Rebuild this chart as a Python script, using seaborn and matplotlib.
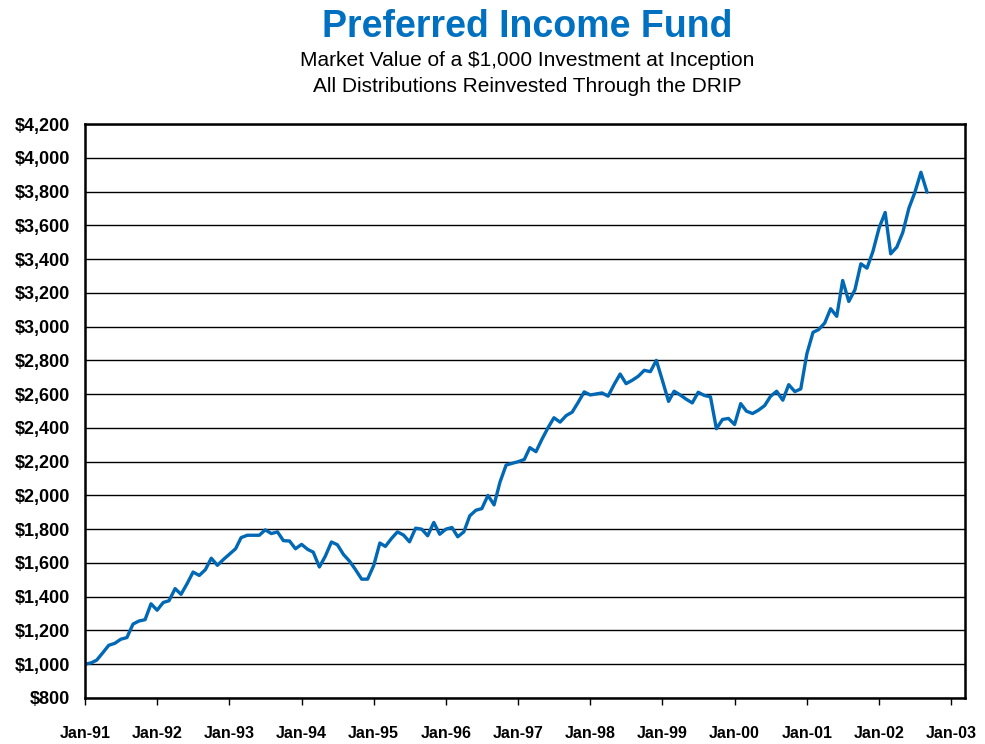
import matplotlib.pyplot as plt
import matplotlib.dates as mdates
from matplotlib.ticker import FuncFormatter
import pandas as pd
import seaborn as sns

# Monthly market value, Jan-91 through Sep-02
start_month = '1991-01-01'
values_1991 = [1000, 1008, 1024, 1068, 1112, 1124, 1148, 1158, 1238, 1256, 1264, 1358]
values_1992 = [1320, 1366, 1376, 1448, 1414, 1478, 1546, 1526, 1560, 1628, 1586, 1620]
values_1993 = [1652, 1684, 1750, 1764, 1764, 1764, 1796, 1774, 1784, 1732, 1730, 1684]
values_1994 = [1710, 1680, 1664, 1576, 1640, 1724, 1708, 1650, 1610, 1560, 1504, 1504]
values_1995 = [1585, 1718, 1698, 1745, 1784, 1765, 1725, 1806, 1800, 1761, 1840, 1770]
values_1996 = [1800, 1810, 1755, 1784, 1879, 1912, 1922, 2000, 1944, 2079, 2180, 2190]
values_1997 = [2200, 2213, 2283, 2259, 2332, 2401, 2460, 2434, 2473, 2493, 2552, 2613]
values_1998 = [2595, 2601, 2607, 2588, 2656, 2719, 2662, 2682, 2706, 2741, 2733, 2800]
values_1999 = [2680, 2557, 2617, 2595, 2570, 2548, 2611, 2592, 2584, 2395, 2450, 2456]
values_2000 = [2420, 2544, 2499, 2485, 2505, 2532, 2587, 2617, 2564, 2656, 2615, 2631]
values_2001 = [2840, 2966, 2982, 3021, 3106, 3061, 3273, 3149, 3218, 3372, 3346, 3445]
values_2002 = [3583, 3676, 3431, 3471, 3557, 3701, 3794, 3914, 3796]

tick_years = list(range(1991, 2004))
y_ticks = list(range(800, 4201, 200))

values = (values_1991 + values_1992 + values_1993 + values_1994 + values_1995 + values_1996
          + values_1997 + values_1998 + values_1999 + values_2000 + values_2001 + values_2002)
df = pd.DataFrame({
    'date': pd.date_range(start_month, periods=len(values), freq='MS'),
    'value': values,
})

sns.set_style('white')
plt.rcParams['font.family'] = ['Liberation Sans', 'DejaVu Sans']
plt.rcParams['text.color'] = 'black'
plt.rcParams['xtick.color'] = 'black'
plt.rcParams['ytick.color'] = 'black'

blue = '#0068B4'
fig = plt.figure(figsize=(9.85, 7.44), dpi=100)
ax = fig.add_axes([85 / 985, 1 - 698 / 744, 880 / 985, 574 / 744])

sns.lineplot(data=df, x='date', y='value', ax=ax, color=blue, linewidth=2.4)

ax.set_ylim(800, 4200)
ax.set_yticks(y_ticks)
ax.yaxis.set_major_formatter(FuncFormatter(lambda v, p: '${:,.0f}'.format(v)))
ax.set_xlim(pd.Timestamp('1991-01-01'), pd.Timestamp('2003-03-12'))
ax.set_xticks([pd.Timestamp(f'{y}-01-01') for y in tick_years])
ax.xaxis.set_major_formatter(mdates.DateFormatter('%b-%y'))

ax.grid(axis='y', color='black', linewidth=1)
ax.set_axisbelow(True)
for s in ax.spines.values():
    s.set_color('black')
    s.set_linewidth(1.8)

ax.tick_params(axis='y', length=0, pad=11, labelsize=13)
ax.tick_params(axis='x', length=5, width=1, color='black', direction='out',
               pad=15, labelsize=11.5)
ax.xaxis.set_ticks_position('bottom')
for lbl in ax.get_xticklabels() + ax.get_yticklabels():
    lbl.set_fontweight('bold')
ax.set_xlabel('')
ax.set_ylabel('')

fig.text(0.535, 1 - 27 / 744, 'Preferred Income Fund', ha='center', va='center',
         fontsize=27, fontweight='bold', color='#0070C0')
fig.text(0.535, 1 - 60 / 744, 'Market Value of a $1,000 Investment at Inception',
         ha='center', va='center', fontsize=15)
fig.text(0.535, 1 - 87 / 744, 'All Distributions Reinvested Through the DRIP',
         ha='center', va='center', fontsize=15)

plt.savefig('out.png', dpi=100)
